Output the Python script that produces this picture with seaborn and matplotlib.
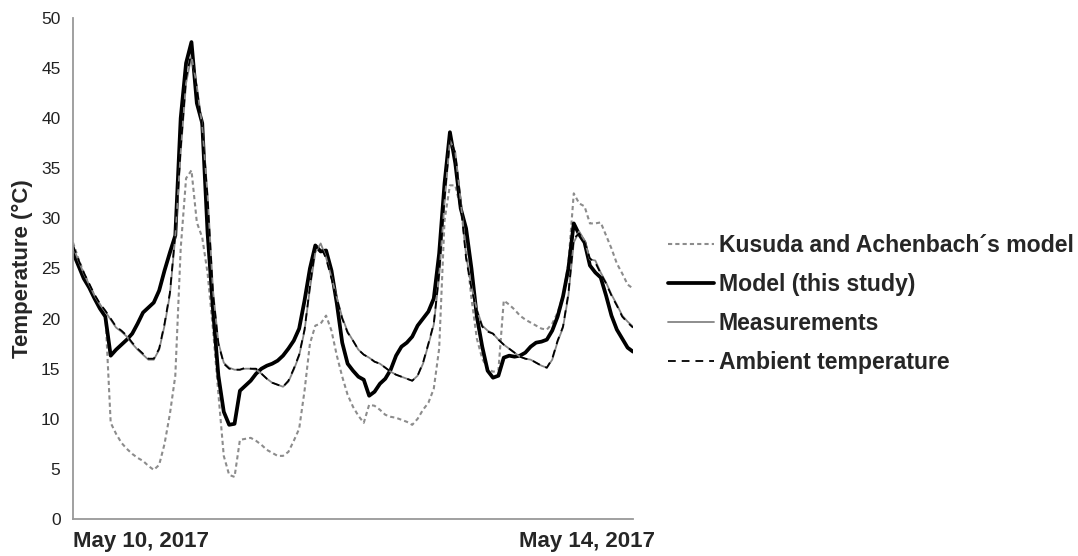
import matplotlib
matplotlib.use("Agg")
import matplotlib.pyplot as plt
import numpy as np
import seaborn as sns

# hourly samples starting May 10, 2017 00:00
hours = list(range(105))

kusuda = [27.6, 26.0, 24.6, 23.4, 22.3, 21.4, 20.6, 9.6, 8.5, 7.6,
          7.0, 6.5, 6.1, 5.8, 5.3, 4.9, 5.4, 7.5, 10.5, 14.3,
          27.0, 34.0, 34.8, 29.6, 28.1, 24.5, 18.9, 12.5, 6.3, 4.4,
          4.2, 7.9, 8.0, 8.1, 7.8, 7.4, 6.9, 6.6, 6.3, 6.3,
          6.7, 7.8, 9.0, 12.8, 17.5, 19.3, 19.5, 20.3, 18.8, 16.3,
          14.2, 12.4, 11.2, 10.3, 9.6, 11.4, 11.3, 10.9, 10.4, 10.2,
          10.1, 9.9, 9.7, 9.4, 10.0, 10.9, 11.6, 13.0, 17.0, 29.8,
          33.3, 33.3, 31.0, 27.0, 22.0, 18.0, 16.0, 15.0, 14.7, 14.8,
          21.8, 21.4, 20.9, 20.3, 19.9, 19.6, 19.3, 19.0, 18.9, 19.5,
          20.6, 22.3, 25.5, 32.5, 31.5, 31.2, 29.5, 29.5, 29.6, 28.3,
          27.0, 25.5, 24.5, 23.4, 23.0]

model = [26.6, 25.3, 24.0, 23.1, 22.0, 21.0, 20.2, 16.3, 16.9, 17.4,
         17.9, 18.5, 19.5, 20.6, 21.1, 21.6, 22.8, 24.8, 26.6, 28.3,
         40.0, 45.5, 47.6, 41.5, 39.5, 28.5, 20.9, 14.3, 10.7, 9.4,
         9.5, 12.8, 13.3, 13.8, 14.5, 15.0, 15.3, 15.5, 15.8, 16.3,
         17.0, 17.8, 19.0, 21.8, 25.0, 27.3, 26.7, 26.8, 24.8, 21.5,
         17.6, 15.5, 14.8, 14.2, 13.9, 12.3, 12.7, 13.5, 14.0, 14.9,
         16.3, 17.2, 17.6, 18.2, 19.3, 20.0, 20.7, 22.0, 26.5, 33.5,
         38.6, 35.5, 31.0, 29.0, 25.0, 20.2, 17.2, 14.8, 14.1, 14.3,
         16.1, 16.3, 16.2, 16.3, 16.6, 17.2, 17.6, 17.7, 17.9, 18.8,
         20.2, 22.2, 25.0, 29.5, 28.4, 27.6, 25.3, 24.6, 24.1, 22.3,
         20.3, 18.9, 18.0, 17.1, 16.7]

measured = [27.2, 25.8, 24.5, 23.4, 22.3, 21.4, 20.7, 19.9, 19.1, 18.7,
            18.2, 17.5, 16.9, 16.4, 15.9, 15.9, 16.9, 19.3, 22.4, 28.2,
            36.6, 43.5, 46.2, 43.2, 39.2, 32.3, 22.8, 17.6, 15.6, 15.1,
            14.9, 14.9, 15.0, 15.0, 14.9, 14.5, 14.0, 13.6, 13.4, 13.2,
            13.7, 14.9, 16.3, 18.8, 23.0, 26.6, 27.5, 26.1, 24.1, 22.1,
            20.1, 18.7, 17.8, 16.9, 16.4, 16.1, 15.7, 15.5, 15.1, 14.7,
            14.4, 14.2, 14.0, 13.8, 14.3, 15.5, 17.4, 19.4, 24.2, 31.6,
            37.8, 36.6, 31.8, 26.3, 23.2, 20.9, 19.3, 18.8, 18.5, 17.9,
            17.4, 17.0, 16.6, 16.2, 16.0, 15.9, 15.6, 15.3, 15.1, 15.9,
            17.7, 19.1, 22.3, 27.6, 28.7, 27.8, 25.9, 25.8, 24.6, 23.6,
            22.4, 21.4, 20.3, 19.7, 19.2]

ambient = [27.3, 25.9, 24.6, 23.5, 22.4, 21.5, 20.8, 20.0, 19.2, 18.8,
           18.3, 17.6, 17.0, 16.5, 16.0, 16.0, 17.0, 19.5, 22.6, 28.5,
           37.0, 44.0, 46.6, 43.0, 39.0, 32.0, 22.5, 17.5, 15.5, 15.0,
           14.9, 14.9, 15.1, 15.0, 15.0, 14.5, 14.0, 13.6, 13.4, 13.2,
           13.8, 15.0, 16.4, 18.9, 23.2, 27.0, 27.2, 26.0, 24.0, 22.0,
           20.0, 18.6, 17.8, 16.9, 16.4, 16.1, 15.7, 15.5, 15.1, 14.7,
           14.4, 14.2, 14.0, 13.8, 14.3, 15.6, 17.5, 19.5, 24.5, 32.0,
           38.0, 36.5, 31.5, 26.0, 23.0, 20.8, 19.2, 18.7, 18.5, 17.9,
           17.4, 17.0, 16.6, 16.2, 16.0, 15.9, 15.6, 15.3, 15.1, 16.0,
           17.8, 19.2, 22.5, 28.0, 28.5, 27.6, 26.0, 25.6, 24.5, 23.5,
           22.3, 21.3, 20.2, 19.6, 19.1]

tick_hours = [0, 95.4]
tick_labels = ["May 10, 2017", "May 14, 2017"]

sns.set_style("white")
plt.rcParams["font.family"] = ["Liberation Sans", "DejaVu Sans"]

W, H = 1078, 556
fig = plt.figure(figsize=(W / 100, H / 100), dpi=100)
ax = fig.add_axes([73 / W, 1 - 519 / H, 560 / W, 501 / H])

sns.lineplot(x=hours, y=kusuda, ax=ax, color="#8c8c8c", lw=1.5,
             linestyle=(0, (2, 1.5)), label="Kusuda and Achenbach´s model")
sns.lineplot(x=hours, y=model, ax=ax, color="black", lw=2.7,
             label="Model (this study)")
sns.lineplot(x=hours, y=measured, ax=ax, color="#858585", lw=1.3,
             label="Measurements")
sns.lineplot(x=hours, y=ambient, ax=ax, color="black", lw=1.3,
             linestyle=(0, (4.3, 3.3)), label="Ambient temperature")

ax.set_xlim(0, 104)
ax.set_ylim(0, 50)
ax.set_yticks(np.arange(0, 51, 5))
ax.set_xticks(tick_hours)
ax.set_xticklabels(tick_labels, fontweight="bold", fontsize=16)
ax.get_xticklabels()[0].set_ha("left")
ax.tick_params(axis="x", length=0, pad=9)
ax.tick_params(axis="y", length=0, pad=9, labelsize=12.5, labelcolor="#222222")
ax.set_ylabel("Temperature (°C)", fontsize=16, fontweight="bold", labelpad=6)
ax.set_xlabel("")

sns.despine(ax=ax)
for side in ["left", "bottom"]:
    ax.spines[side].set_color("#999999")
    ax.spines[side].set_linewidth(1.3)

handles, labels = ax.get_legend_handles_labels()
ax.get_legend().remove()
fig.legend(handles, labels, loc="center left", bbox_to_anchor=(668 / W, 1 - 304 / H),
           frameon=False, prop={"weight": "bold", "size": 16.6},
           handlelength=2.0, handletextpad=0.2, borderpad=0, borderaxespad=0,
           labelspacing=0.7)

fig.savefig("out.png", dpi=100)
